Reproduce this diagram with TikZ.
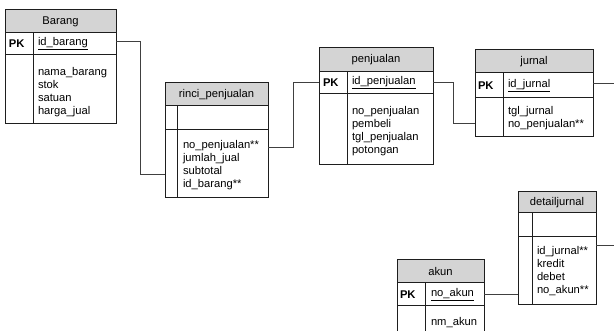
\documentclass[tikz,border=0pt]{standalone}
\usepackage{fontspec}
\setmainfont{Liberation Sans}
\usetikzlibrary{positioning}
\definecolor{headgray}{RGB}{212,212,212}
\definecolor{linkgray}{RGB}{64,64,64}
\definecolor{edgegray}{RGB}{30,30,30}

\begin{document}
\begin{tikzpicture}[x=1pt,y=-1pt,
        every node/.style={font=\fontsize{11.2}{13}\selectfont,inner sep=0pt,outer sep=0pt},
        head/.style={rectangle,draw=edgegray,line width=1pt,fill=headgray,anchor=north west},
        cell/.style={rectangle,draw=edgegray,line width=1pt,anchor=north west},
        field/.style={anchor=north west,align=left},
        link/.style={draw=linkgray,line width=1pt}]
    \useasboundingbox (0,0) rectangle (614,331);
    \clip (0,0) rectangle (614,331);

    % Barang
    \node[head,minimum width=111pt,minimum height=23pt] (barang) at (5,10) {Barang};
    \node[cell,minimum width=111pt,minimum height=22pt] (barangpk) at (barang.south west) {};
    \node[cell,minimum width=111pt,minimum height=69pt] (barangbody) at (barangpk.south west) {};
    \draw[edgegray,line width=1pt] ([xshift=28pt]barangpk.north west) -- ([xshift=28pt]barangbody.south west);
    \node[anchor=west] (barangkey) at ([xshift=4pt]barangpk.west) {\textbf{PK}};
    \node[anchor=west] (barangid) at ([xshift=33pt]barangpk.west) {\underline{id\_barang}};
    \node[field] (barangatr) at ([xshift=33pt,yshift=-12pt]barangbody.north west) {nama\_barang\\stok\\satuan\\harga\_jual};

    % rinci_penjualan
    \node[head,minimum width=103pt,minimum height=23pt] (rinci) at (165,83) {rinci\_penjualan};
    \node[cell,minimum width=103pt,minimum height=24pt] (rincipk) at (rinci.south west) {};
    \node[cell,minimum width=103pt,minimum height=68pt] (rincibody) at (rincipk.south west) {};
    \draw[edgegray,line width=1pt] ([xshift=12pt]rincipk.north west) -- ([xshift=12pt]rincibody.south west);
    \node[field] (rinciatr) at ([xshift=18pt,yshift=-10pt]rincibody.north west) {no\_penjualan**\\jumlah\_jual\\subtotal\\id\_barang**};

    % penjualan
    \node[head,minimum width=114pt,minimum height=24pt] (penjualan) at (319,48) {penjualan};
    \node[cell,minimum width=114pt,minimum height=22pt] (penjualanpk) at (penjualan.south west) {};
    \node[cell,minimum width=114pt,minimum height=71pt] (penjualanbody) at (penjualanpk.south west) {};
    \draw[edgegray,line width=1pt] ([xshift=28pt]penjualanpk.north west) -- ([xshift=28pt]penjualanbody.south west);
    \node[anchor=west] (penjualankey) at ([xshift=4pt]penjualanpk.west) {\textbf{PK}};
    \node[anchor=west] (penjualanid) at ([xshift=33pt]penjualanpk.west) {\underline{id\_penjualan}};
    \node[field] (penjualanatr) at ([xshift=33pt,yshift=-12pt]penjualanbody.north west) {no\_penjualan\\pembeli\\tgl\_penjualan\\potongan};

    % jurnal
    \node[head,minimum width=118pt,minimum height=23pt] (jurnal) at (475,50) {jurnal};
    \node[cell,minimum width=118pt,minimum height=25pt] (jurnalpk) at (jurnal.south west) {};
    \node[cell,minimum width=118pt,minimum height=39pt] (jurnalbody) at (jurnalpk.south west) {};
    \draw[edgegray,line width=1pt] ([xshift=28pt]jurnalpk.north west) -- ([xshift=28pt]jurnalbody.south west);
    \node[anchor=west] (jurnalkey) at ([xshift=3pt]jurnalpk.west) {\textbf{PK}};
    \node[anchor=west] (jurnalid) at ([xshift=33pt]jurnalpk.west) {\underline{id\_jurnal}};
    \node[field] (jurnalatr) at ([xshift=33pt,yshift=-8pt]jurnalbody.north west) {tgl\_jurnal\\no\_penjualan**};

    % detailjurnal
    \node[head,minimum width=78pt,minimum height=21pt] (detail) at (518,192) {detailjurnal};
    \node[cell,minimum width=78pt,minimum height=24pt] (detailpk) at (detail.south west) {};
    \node[cell,minimum width=78pt,minimum height=68pt] (detailbody) at (detailpk.south west) {};
    \draw[edgegray,line width=1pt] ([xshift=14pt]detailpk.north west) -- ([xshift=14pt]detailbody.south west);
    \node[field] (detailatr) at ([xshift=19pt,yshift=-9pt]detailbody.north west) {id\_jurnal**\\kredit\\debet\\no\_akun**};

    % akun
    \node[head,minimum width=87pt,minimum height=23pt] (akun) at (397,260) {akun};
    \node[cell,minimum width=87pt,minimum height=23pt] (akunpk) at (akun.south west) {};
    \node[cell,minimum width=87pt,minimum height=44pt] (akunbody) at (akunpk.south west) {};
    \draw[edgegray,line width=1pt] ([xshift=28pt]akunpk.north west) -- ([xshift=28pt]akunbody.south west);
    \node[anchor=west] (akunkey) at ([xshift=3pt]akunpk.west) {\textbf{PK}};
    \node[anchor=west] (akunid) at ([xshift=34pt]akunpk.west) {\underline{no\_akun}};
    \node[field] (akunatr) at ([xshift=34pt,yshift=-11pt]akunbody.north west) {nm\_akun};

    % relations
    \draw[link] ([yshift=2pt]barangpk.east) -- ++(24,0) |- ([yshift=-11pt]rincibody.west);
    \draw[link] ([yshift=16pt]rincibody.east) -- ++(25,0) |- (penjualanpk.west);
    \draw[link] (penjualanpk.east) -- ++(20,0) |- ([yshift=-6pt]jurnalbody.west);
    \draw[link] ([yshift=2pt]jurnalpk.east) -- ++(25,0);
    \draw[link] ([yshift=25pt]detailbody.east) -- ++(25,0);
    \draw[link] (akunpk.east) -- (akunpk.east -| detailbody.west);
\end{tikzpicture}
\end{document}
